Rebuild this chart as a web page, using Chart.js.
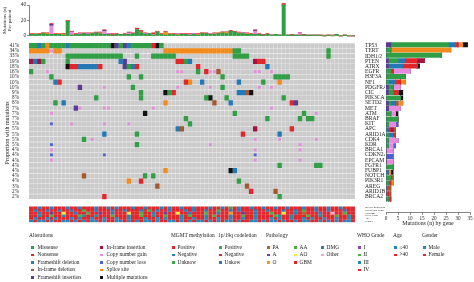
<!DOCTYPE html>
<html>
<head>
<meta charset="utf-8">
<script src="https://cdn.jsdelivr.net/npm/chart.js@4.4.1/dist/chart.umd.min.js"></script>
<style>
  body { margin: 0; background: #fff; width: 474px; height: 282px; overflow: hidden; position: relative; font-family: "Liberation Serif", serif; }
  canvas { position: absolute; }
  .lg { position: absolute; font-size: 5.4px; line-height: 1; color: #222; white-space: nowrap; }
  .mk { position: absolute; width: 2.6px; height: 2.6px; }
</style>
</head>
<body>
<canvas id="top" width="360" height="40" style="left:0;top:0"></canvas>
<canvas id="grid" width="385" height="190" style="left:0;top:38px"></canvas>
<canvas id="side" width="91" height="189" style="left:383px;top:38px"></canvas>
<div id="legend"></div>
<script>
// ---- data ----
const nPatients = 80;

const genes = ['TP53', 'TERT', 'IDH1/2', 'PTEN', 'ATRX', 'EGFR', 'H3F3A', 'NF1', 'PDGFRA', 'CIC',
  'PIK3CA', 'SETD2', 'MET', 'ATM', 'BRAF', 'KIT', 'APC', 'ARID1A', 'CDK4', 'KDR',
  'BRCA1', 'CDKN2A', 'EPCAM', 'FGFR1', 'FUBP1', 'NOTCH1', 'PIK3R1', 'AREG', 'ARID1B', 'BRCA2'];

const genePct = ['41%', '34%', '33%', '19%', '18%', '16%', '10%', '10%', '10%', '9%',
  '8%', '8%', '7%', '7%', '7%', '5%', '5%', '5%', '5%', '5%',
  '4%', '4%', '4%', '4%', '4%', '4%', '4%', '3%', '2%', '2%'];

// patient column + alteration code, "a-b" = run of columns
// M missense, N nonsense, D frameshift del, d in-frame del, I frameshift ins,
// i in-frame ins, G copy gain, L copy loss, S splice site, X multiple
const geneCells = [
  '0-1M 2D 3M 4S 5-8M 9D 10-19M 20X 21I 22M 23I 24D 25-29M 30N 31X 32M',
  '0-4S 5G 6-7S 33-49S 50-51M 73M',
  '9-22M 26M 30-35M 50-53M 73M',
  '0i 1D 2i 3M 9M 22D 23I 36N 37N 38M 39D 55i 56N 57N',
  '9X 10N 11N 12-16D 17N 23I 24M 25D 26N 41N 58D',
  '0M 4G 36G 37G 41M 43N 44G 45G 46d 55G 56G 59G',
  '5M 24M 27M 47M 60-63M',
  '6D 7N 38N 39S 42D 51D 57M 61S',
  '12I 18G 25M 36G 44G 47M 56G 59G',
  '27M 33X 34M 35N 51D 52D 53d 54X',
  '16M 27M 43M 44X 48M 62M',
  '6M 8D 33S 45d 49D 64N 65I',
  '11I 12G 18G 19G 30G 59G',
  '5G 28X 50M 67M 70G',
  '38M 58M 66M 68M 69M',
  '5L 10G 18G 24G 39M',
  '36D 37d 55i 64N',
  '18D 26M 52N 61D',
  '13M 15G 55G 61G 70G',
  '5L 26M 44G 66G',
  '5G 55G 66G',
  '5L 18L 55L',
  '5G 55G 66G',
  '61M 70M 71M',
  '33S 49X 50D',
  '13d 28M 30M',
  '24S 27N 51M',
  '31d 53d',
  '54N 60d',
  '18N 61M'
];

const altCodes = ['M', 'N', 'D', 'd', 'I', 'i', 'G', 'L', 'S', 'X'];
const altLabels = ['Missense', 'Nonsense', 'Frameshift deletion', 'In-frame deletion', 'Frameshift insertion',
  'In-frame insertion', 'Copy number gain', 'Copy number loss', 'Splice site', 'Multiple mutations'];

// mutations per patient (top bars)
const perPatientMissense = [2,2,2,3,2,2,2,2,1,19, 1,2,2,3,2,3,4,3,2,2, 1,2,2,2,2,3,8,4,2,3,
  1,5,2,1,2,2,1,2,2,1, 2,1,3,3,2,2,3,4,3,6, 5,3,3,2,2,2,2,1,2,1, 2,1,40,1,1,1,1,1,1,1, 1,1,0,1,0,2,0,1,0,0];
const perPatientSplice = [0,1,0,1,1,0,0,1,1,0, 0,0,0,0,0,0,0,1,0,0, 0,0,0,0,0,0,0,1,0,0,
  0,0,0,4,1,0,1,0,0,0, 0,1,1,0,0,1,0,1,2,0, 0,1,0,1,0,0,0,0,0,0, 0,0,0,0,0,0,0,0,0,0, 0,0,0,0,0,0,0,0,0,0];
const perPatientGain = [0,0,0,0,0,11,0,0,0,0, 4,0,1,0,1,0,0,0,4,1, 0,0,0,0,2,0,0,0,1,0,
  1,0,0,0,0,0,1,0,0,1, 1,0,0,0,1,0,0,0,0,0, 0,0,1,0,0,4,0,0,0,1, 0,0,0,0,0,0,3,0,0,0, 0,0,0,0,1,0,0,0,0,0];
const perPatientFsIns = [0,0,0,0,0,2,0,0,0,0, 0,0,0,0,0,0,0,0,1,0, 0,0,0,0,0,0,0,0,0,0,
  0,0,0,0,0,0,0,0,0,0, 0,0,0,0,0,0,0,0,0,0, 0,0,0,0,0,1,0,0,0,0, 0,0,0,0,0,0,0,0,0,0, 0,0,0,0,0,0,0,0,0,0];
const perPatientNonsense = [1,0,1,0,1,1,1,0,1,1, 1,1,1,1,1,1,1,1,1,0, 2,1,0,1,1,1,2,2,1,0,
  2,1,1,1,0,1,0,1,1,1, 0,1,0,1,0,1,1,0,0,1, 1,1,0,1,1,1,1,1,1,0, 0,0,2,0,1,0,0,1,0,0, 0,0,1,0,0,0,0,0,0,0];

// mutations by gene (right bars), one array per alteration type
const byGeneFsIns    = [2,0,0,1,1,0,0,0,1,1, 0,1,1,0,0,0,0,0,0,0, 0,0,0,0,0,0,0,0,0,0];
const byGeneMissense = [24,2,23,4,0,2,8,1,2,2, 6,1,0,2,5,1,0,1,1,1, 0,0,0,3,0,2,1,0,0,1];
const byGeneFsDel    = [3,0,0,3,6,0,0,3,0,0, 0,2,0,0,0,0,1,2,0,0, 0,0,0,0,1,0,0,0,0,0];
const byGeneNonsense = [1,0,0,5,6,1,0,2,0,2, 0,0,0,0,0,0,1,1,0,0, 0,0,0,0,0,0,1,0,1,1];
const byGeneInsIn    = [0,0,0,3,0,0,0,0,0,0, 0,0,0,0,0,0,1,0,0,0, 0,0,0,0,0,0,0,0,0,0];
const byGeneDelIn    = [0,0,0,0,0,0,0,0,0,0, 0,1,0,0,0,0,1,0,0,0, 0,0,0,0,0,1,0,2,1,0];
const byGeneGain     = [0,0,0,0,0,7,0,0,3,0, 0,0,5,2,0,3,0,0,4,2, 3,0,3,0,0,0,0,0,0,0];
const byGeneLoss     = [0,0,0,0,0,0,0,0,0,0, 0,0,0,0,0,1,0,0,0,1, 0,3,0,0,0,0,0,0,0,0];
const byGeneSplice   = [2,25,0,0,0,0,0,2,0,0, 0,2,0,0,0,0,0,0,0,0, 0,0,0,0,1,0,1,0,0,0];
const byGeneMulti    = [2,0,0,0,1,0,0,0,0,2, 1,0,0,1,0,0,0,0,0,0, 0,0,0,0,1,0,0,0,0,0];
const sideTicks = [0, 5, 10, 15, 20, 25, 30, 35];
const topTicks = [0, 10, 20, 30, 40];

// clinical annotation tracks, one code per patient
const trackNames = ['MGMT methylation', '1p/19q codeletion', 'Pathology', 'WHO Grade', 'Age', 'Gender'];
const trackValues = [
  'PPNPP NPPPN PPNPP PNPPN PNPPP NPPNP PPNPN PPNPP NPPPN PPNPU PNPPN PPNPP NPPNP PPNPP NPPNP PNPPP',
  'NUNNU NNUNN UNNPN NUNNN UNNUN NNUNP NUNNU NNNUN UNNUN NPNNU NUNNN UNNUN NNUNN UNPNN UNNUN NNUNN',
  'GGDGG AGGCG GDGGB GGAGG DGGGC GGBGG DGGAG GCGGD GGGBG GDGGO GGAGG DGGGB GGCGG DGaGG GDGGX GGBGG',
  '44344 24434 44234 43444 24443 44244 34424 44342 44434 24443 44244 34444 23443 44424 43444 24434',
  'oyooy oyooo yoyoo yooyo oyooy oooyo oyoyo ooyoo yooyo oyooy ooyoo yoooy oyooy ooyoy ooyoo yooyo',
  'MFMMF MFFMM FMFMF MMFMF FMMFM FMFMM FMFFM MFMFM FMMFM FMFMM FMFFM MFMFM MFMFF MFMMF FMFMF MFMMF'
];
const trackCodes = [['P', 'N', 'U'], ['P', 'N', 'U'], ['a', 'A', 'O', 'B', 'C', 'G', 'D', 'X'], ['1', '2', '3', '4'], ['y', 'o'], ['M', 'F']];
const trackLabels = [
  ['Positive', 'Negative', 'Unknow'],
  ['Positive', 'Negative', 'Unkow'],
  ['PA', 'A', 'O', 'AA', 'AO', 'GBM', 'DMG', 'Other'],
  ['I', 'II', 'III', 'IV'],
  ['\u226440', '>40'],
  ['Male', 'Female']
];

// ---- styles ----
const FONT = 'Liberation Serif';
const altColors = { M: '#2f9e44', N: '#e0262b', D: '#2378b6', d: '#a3582e', I: '#5a3a94', i: '#a3133f',
  G: '#e98ae2', L: '#4a62d8', S: '#f28b1c', X: '#111111' };
const trackColors = [
  ['#e3262b', '#2a7bb8', '#3fa94a'],
  ['#3fa94a', '#e3262b', '#2a7bb8'],
  ['#b0642b', '#6b3fa0', '#f39a1f', '#4caf3f', '#f3ee3a', '#e3262b', '#2a7bb8', '#f3a6d6'],
  ['#8e4aa6', '#4caf3f', '#1f8fa6', '#e3262b'],
  ['#2a86b8', '#e3262b'],
  ['#2a86b8', '#e3262b']
];
const GRAY = '#cbcbcb';

function parseCells(s) {
  const out = [];
  s.trim().split(/\s+/).forEach(tok => {
    const m = tok.match(/^(\d+)(?:-(\d+))?([A-Za-z])$/);
    const a = +m[1], b = m[2] ? +m[2] : a;
    for (let c = a; c <= b; c++) out.push([c, m[3]]);
  });
  return out;
}

// ---- main grid ----
const trackBase = genes.length + 1.15;
const gridDatasets = [];
const bg = [];
genes.forEach((g, r) => { for (let c = 0; c < nPatients; c++) bg.push({ x: c, y: [r - 0.4, r + 0.4] }); });
gridDatasets.push({ data: bg, backgroundColor: GRAY, barThickness: 3.3, order: 3 });

const parsed = geneCells.map(parseCells);
altCodes.forEach(code => {
  const small = code === 'G' || code === 'L';
  const h = small ? 0.2 : 0.44;
  const pts = [];
  parsed.forEach((cells, r) => cells.forEach(([c, k]) => { if (k === code) pts.push({ x: c, y: [r - h, r + h] }); }));
  gridDatasets.push({ data: pts, backgroundColor: altColors[code], barThickness: small ? 2.2 : 3.7, order: 1 });
});

trackValues.forEach((str, k) => {
  const vals = str.replace(/\s/g, '').split('');
  const yc = trackBase + 0.5 * k;
  gridDatasets.push({
    data: vals.map((v, c) => ({ x: c, y: [yc - 0.21, yc + 0.21] })),
    backgroundColor: vals.map(v => trackColors[k][trackCodes[k].indexOf(v)]),
    barThickness: 3.3, order: 1
  });
});

const rowTicks = genes.map((g, i) => i).concat(trackNames.map((t, k) => trackBase + 0.5 * k));
const rowLabels = genes.concat(trackNames);

new Chart(document.getElementById('grid'), {
  type: 'bar',
  data: { datasets: gridDatasets.map(d => Object.assign(d, { yAxisID: 'y', xAxisID: 'x', grouped: false })) },
  options: {
    responsive: false, animation: false,
    layout: { padding: { top: 4, bottom: 2.5, left: 0, right: 0 } },
    plugins: { legend: { display: false }, tooltip: { enabled: false } },
    scales: {
      x: { type: 'linear', offset: false, min: -0.5, max: nPatients - 0.5, display: false },
      y: {
        type: 'linear', position: 'right', reverse: true, min: -0.5, max: 34,
        afterFit: s => { s.width = 30; },
        afterBuildTicks: s => { s.ticks = rowTicks.map(v => ({ value: v })); },
        grid: { display: false }, border: { display: false },
        ticks: {
          autoSkip: false, padding: 2, color: '#222',
          font: ctx => ({ family: FONT, size: ctx.index >= genes.length ? 2.6 : 5.6 }),
          callback: (v, i) => rowLabels[i]
        }
      },
      yl: {
        type: 'linear', position: 'left', reverse: true, min: -0.5, max: 34,
        afterFit: s => { s.width = 29; },
        afterBuildTicks: s => { s.ticks = genes.map((g, i) => ({ value: i })); },
        grid: { display: false }, border: { display: false },
        ticks: { autoSkip: false, padding: 2, color: '#222', font: { family: FONT, size: 5.2 }, callback: (v, i) => genePct[i] },
        title: { display: true, text: 'Proportion with mutations', color: '#222', font: { family: FONT, size: 6 }, padding: { top: 4, bottom: 0 } }
      }
    }
  }
});

// ---- top bars: mutations per patient ----
const patients = Array.from({ length: nPatients }, (_, i) => 'P' + (i + 1));
new Chart(document.getElementById('top'), {
  type: 'bar',
  data: {
    labels: patients,
    datasets: [
      { data: perPatientMissense, backgroundColor: altColors.M },
      { data: perPatientSplice, backgroundColor: altColors.S },
      { data: perPatientGain, backgroundColor: altColors.G },
      { data: perPatientFsIns, backgroundColor: altColors.I },
      { data: perPatientNonsense, backgroundColor: altColors.N }
    ].map(d => Object.assign(d, { barThickness: 3.3, clip: false }))
  },
  options: {
    responsive: false, animation: false,
    layout: { padding: { top: 5, bottom: 4, left: 0, right: 5 } },
    plugins: { legend: { display: false }, tooltip: { enabled: false } },
    scales: {
      x: { stacked: true, display: false },
      y: {
        stacked: true, min: 0, max: 40,
        afterFit: s => { s.width = 29; },
        afterBuildTicks: s => { s.ticks = topTicks.map(v => ({ value: v })); },
        grid: { drawOnChartArea: false, tickLength: 2, color: '#333', lineWidth: 0.6 },
        border: { color: '#333', width: 0.6 },
        ticks: { padding: 1, color: '#222', font: { family: FONT, size: 5.2 } },
        title: { display: true, text: ['Mutations (n)', 'Per patient'], color: '#222', font: { family: FONT, size: 5, lineHeight: 1.1 }, padding: { top: 1.5, bottom: 0 } }
      }
    }
  }
});

// ---- right bars: mutations by gene ----
const sideSeries = [
  ['I', byGeneFsIns], ['M', byGeneMissense], ['D', byGeneFsDel], ['N', byGeneNonsense], ['i', byGeneInsIn],
  ['d', byGeneDelIn], ['G', byGeneGain], ['L', byGeneLoss], ['S', byGeneSplice], ['X', byGeneMulti]
];
new Chart(document.getElementById('side'), {
  type: 'bar',
  data: {
    datasets: sideSeries.map(([code, vals]) => ({
      data: vals.map((v, i) => ({ x: v, y: i })),
      backgroundColor: altColors[code], barThickness: 4.3
    }))
  },
  options: {
    indexAxis: 'y', responsive: false, animation: false,
    layout: { padding: { top: 4, left: 3, right: 4, bottom: 0 } },
    plugins: { legend: { display: false }, tooltip: { enabled: false } },
    scales: {
      y: { type: 'linear', offset: false, stacked: true, reverse: true, min: -0.5, max: 31.5, display: false },
      x: {
        type: 'linear', stacked: true, min: 0, max: 35,
        afterFit: s => { s.height = 14.7; },
        afterBuildTicks: s => { s.ticks = sideTicks.map(v => ({ value: v })); },
        grid: { drawOnChartArea: false, tickLength: 2.5, color: '#333', lineWidth: 0.6 },
        border: { color: '#333', width: 0.6 },
        ticks: { padding: 1, maxRotation: 0, color: '#222', font: { family: FONT, size: 5.2 } },
        title: { display: true, text: 'Mutations (n) by gene', color: '#222', font: { family: FONT, size: 5.8 }, padding: 0 }
      }
    }
  }
});

// ---- legend (html text) ----
const legend = document.getElementById('legend');
const rowY = i => 247.7 + 7.45 * i;
function addText(txt, x, yc) {
  const el = document.createElement('div');
  el.className = 'lg'; el.textContent = txt;
  el.style.left = x + 'px'; el.style.top = (yc - 2.9) + 'px';
  legend.appendChild(el);
}
function addItem(color, txt, x, yc, gap) {
  const m = document.createElement('div');
  m.className = 'mk'; m.style.background = color;
  m.style.left = x + 'px'; m.style.top = (yc - 1.3) + 'px';
  legend.appendChild(m);
  addText(txt, x + gap, yc);
}
addText('Alterations', 29, 236);
altCodes.forEach((code, i) => {
  const col = i < 5 ? 31 : 100;
  addItem(altColors[code], altLabels[i], col, rowY(i % 5), 6.5);
});
const groupX = [171, 218, 266, 357, 393, 422];
trackNames.forEach((name, k) => {
  addText(name, groupX[k], 236);
  trackLabels[k].forEach((lab, i) => {
    const colOff = k === 2 ? Math.floor(i / 3) * 27 : 0;
    const row = k === 2 ? i % 3 : i;
    addItem(trackColors[k][i], lab, groupX[k] + 1 + colOff, rowY(row), 5.5);
  });
});
</script>
</body>
</html>
